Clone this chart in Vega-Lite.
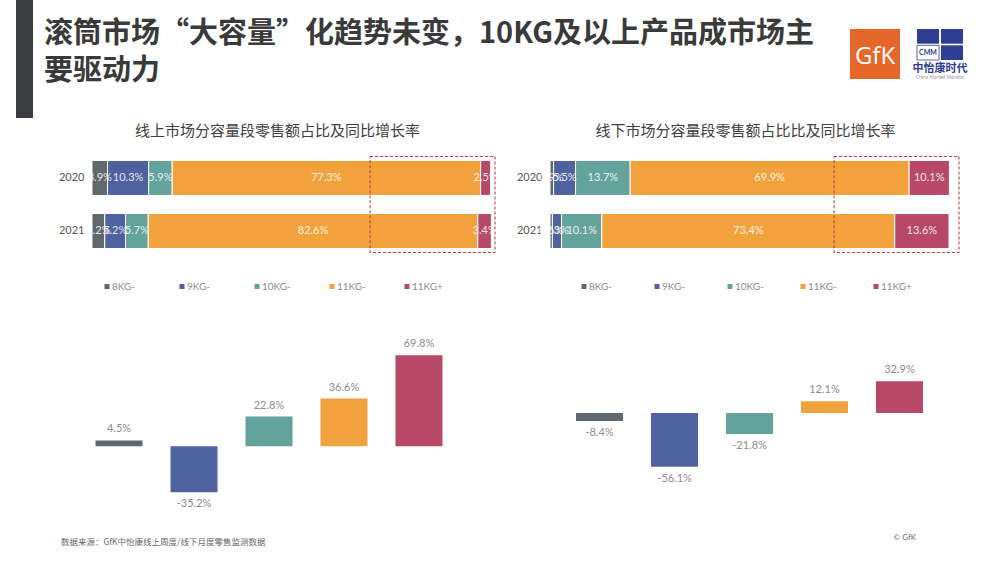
{
  "$schema": "https://vega.github.io/schema/vega-lite/v6.json",
  "background": "white",
  "padding": {"left": 16, "top": 0, "right": 5, "bottom": 5},
  "config": {
    "view": {"stroke": null},
    "font": "Lato",
    "locale": {"number": {"decimal": ".", "thousands": ",", "grouping": [3], "currency": ["$", ""], "minus": "-"}}
  },
  "bounds": "flush",
  "spacing": 156.5,
  "resolve": {"scale": {"color": "independent"}, "legend": {"color": "independent"}},
  "vconcat": [
    {
      "bounds": "flush",
      "spacing": 11,
      "hconcat": [
        {"width": 17, "height": 118, "view": {"fill": "#3a3c3f", "stroke": null}, "data": {"values": []}, "mark": "point"},
        {
          "width": 795, "height": 118, "data": {"values": []}, "mark": "point",
          "title": {
            "text": ["滚筒市场“大容量”化趋势未变，10KG及以上产品成市场主", "要驱动力"],
            "orient": "bottom", "anchor": "start", "frame": "group", "baseline": "top", "offset": -98,
            "font": "Noto Sans CJK SC", "fontSize": 29, "fontWeight": "bold", "color": "#3a3a3a", "lineHeight": 37
          }
        },
        {
          "bounds": "flush",
          "spacing": 28,
          "vconcat": [
            {"width": 1, "height": 1, "data": {"values": []}, "mark": "point"},
            {
              "bounds": "flush",
              "spacing": 17,
              "hconcat": [
                {
                  "width": 50, "height": 50,
                  "view": {"fill": "#e5672a", "stroke": null},
                  "data": {"values": [{}]},
                  "mark": {"type": "text", "text": "GfK", "color": "white", "fontSize": 24, "font": "Open Sans", "align": "center", "baseline": "middle", "dy": 3},
                  "encoding": {}
                },
                {
                  "width": 46, "height": 31,
                  "title": {
                    "text": "中怡康时代", "subtitle": "China Market Monitor",
                    "orient": "bottom", "anchor": "middle", "frame": "group", "baseline": "top", "offset": 3,
                    "font": "Noto Sans CJK SC", "fontSize": 11, "fontWeight": "bold", "color": "#2f3d92",
                    "subtitleFontSize": 5, "subtitleColor": "#999999", "subtitlePadding": 1, "subtitleFont": "Lato"
                  },
                  "layer": [
                    {
                      "data": {"values": [{"c": "L", "r": "T"}, {"c": "R", "r": "T"}, {"c": "R", "r": "B"}]},
                      "mark": {"type": "rect", "color": "#2f3d92"},
                      "encoding": {
                        "x": {"field": "c", "type": "nominal", "axis": null, "scale": {"domain": ["L", "R"], "paddingInner": 0.08, "paddingOuter": 0}},
                        "y": {"field": "r", "type": "nominal", "axis": null, "scale": {"domain": ["T", "B"], "paddingInner": 0.1, "paddingOuter": 0}}
                      }
                    },
                    {
                      "data": {"values": [{"c": "L", "r": "B"}]},
                      "mark": {"type": "rect", "fill": "white", "stroke": "#2f3d92", "strokeWidth": 0.8},
                      "encoding": {
                        "x": {"field": "c", "type": "nominal", "axis": null, "scale": {"domain": ["L", "R"], "paddingInner": 0.08, "paddingOuter": 0}},
                        "y": {"field": "r", "type": "nominal", "axis": null, "scale": {"domain": ["T", "B"], "paddingInner": 0.1, "paddingOuter": 0}}
                      }
                    },
                    {
                      "data": {"values": [{"c": "L", "r": "B", "t": "CMM"}]},
                      "mark": {"type": "text", "color": "#2f3d92", "fontSize": 7, "font": "Lato", "fontWeight": "bold"},
                      "encoding": {
                        "x": {"field": "c", "type": "nominal", "axis": null, "scale": {"domain": ["L", "R"], "paddingInner": 0.08, "paddingOuter": 0}},
                        "y": {"field": "r", "type": "nominal", "axis": null, "scale": {"domain": ["T", "B"], "paddingInner": 0.1, "paddingOuter": 0}},
                        "text": {"field": "t"}
                      }
                    }
                  ]
                }
              ]
            }
          ]
        }
      ]
    },
    {
      "bounds": "flush",
      "spacing": 0,
      "resolve": {"scale": {"color": "independent"}, "legend": {"color": "independent"}},
      "hconcat": [
        {"width": 76, "height": 1, "data": {"values": []}, "mark": "point"},
        {
          "bounds": "flush",
          "spacing": 96,
          "resolve": {"scale": {"color": "independent"}, "legend": {"color": "independent"}},
          "vconcat": [
            {
              "width": 399, "height": 96,
              "title": {
                "text": "线上市场分容量段零售额占比及同比增长率",
                "orient": "top", "anchor": "middle", "frame": "group", "baseline": "top", "offset": 17, "dx": -14,
                "font": "Noto Sans CJK SC", "fontSize": 15, "fontWeight": "normal", "color": "#404040"
              },
              "data": {"values": [
                {"year": "2020", "seg": "8KG-", "k": 1, "share": 0.039},
                {"year": "2020", "seg": "9KG-", "k": 2, "share": 0.103},
                {"year": "2020", "seg": "10KG-", "k": 3, "share": 0.059},
                {"year": "2020", "seg": "11KG-", "k": 4, "share": 0.773},
                {"year": "2020", "seg": "11KG+", "k": 5, "share": 0.025},
                {"year": "2021", "seg": "8KG-", "k": 1, "share": 0.032},
                {"year": "2021", "seg": "9KG-", "k": 2, "share": 0.052},
                {"year": "2021", "seg": "10KG-", "k": 3, "share": 0.057},
                {"year": "2021", "seg": "11KG-", "k": 4, "share": 0.826},
                {"year": "2021", "seg": "11KG+", "k": 5, "share": 0.034}
              ]},
              "layer": [
                {
                  "mark": {"type": "bar", "stroke": "white", "strokeWidth": 1},
                  "encoding": {
                    "y": {"field": "year", "type": "nominal", "sort": ["2020", "2021"], "scale": {"paddingInner": 0.34, "paddingOuter": 0.075},
                          "axis": {"title": null, "domain": false, "ticks": false, "labelPadding": 8, "labelFontSize": 11, "labelColor": "#555555", "labelFont": "Lato"}},
                    "x": {"field": "share", "type": "quantitative", "stack": "zero", "axis": null, "scale": {"domain": [0, 1], "nice": false}},
                    "color": {"field": "seg", "type": "nominal",
                              "scale": {"domain": ["8KG-", "9KG-", "10KG-", "11KG-", "11KG+"], "range": ["#60676d", "#4e62a0", "#64a39b", "#f2a23c", "#b84868"]},
                              "legend": {"title": null, "orient": "none", "legendX": 10, "legendY": 125, "direction": "horizontal", "columns": 5,
                                         "symbolType": "square", "symbolSize": 25, "symbolStrokeWidth": 0, "labelFontSize": 10, "labelColor": "#8c8c8c",
                                         "labelFont": "Lato", "labelOffset": 0, "gridAlign": "all", "columnPadding": 34}},
                    "order": {"field": "k", "type": "quantitative"}
                  }
                },
                {
                  "mark": {"type": "text", "color": "white", "opacity": 0.85, "fontSize": 11, "font": "Lato"},
                  "encoding": {
                    "y": {"field": "year", "type": "nominal", "sort": ["2020", "2021"]},
                    "x": {"field": "share", "type": "quantitative", "stack": "zero", "bandPosition": 0.5},
                    "detail": {"field": "seg"},
                    "order": {"field": "k", "type": "quantitative"},
                    "text": {"field": "share", "type": "quantitative", "format": ".1%"}
                  }
                },
                {
                  "data": {"values": [{}]},
                  "mark": {"type": "rect", "fill": null, "stroke": "#b8413f", "strokeDash": [3, 2], "strokeWidth": 1.1},
                  "encoding": {"x": {"datum": 0.697}, "x2": {"datum": 1.01}}
                }
              ]
            },
            {
              "width": 354, "height": 150,
              "title": {
                "text": "数据来源：GfK中怡康线上周度/线下月度零售监测数据",
                "orient": "bottom", "anchor": "start", "frame": "group", "baseline": "top", "offset": 29, "dx": -31,
                "font": "Noto Sans CJK SC", "fontSize": 8.5, "fontWeight": "normal", "color": "#666666"
              },
              "data": {"values": [
                {"seg": "8KG-", "yoy": 0.045},
                {"seg": "9KG-", "yoy": -0.352},
                {"seg": "10KG-", "yoy": 0.228},
                {"seg": "11KG-", "yoy": 0.366},
                {"seg": "11KG+", "yoy": 0.698}
              ]},
              "encoding": {
                "x": {"field": "seg", "type": "nominal", "sort": ["8KG-", "9KG-", "10KG-", "11KG-", "11KG+"], "axis": null, "scale": {"paddingInner": 0.373, "paddingOuter": 0.047}},
                "y": {"field": "yoy", "type": "quantitative", "axis": null, "scale": {"domain": [-0.40, 0.75], "nice": false}}
              },
              "layer": [
                {
                  "mark": {"type": "bar"},
                  "encoding": {
                    "color": {"field": "seg", "type": "nominal", "legend": null,
                              "scale": {"domain": ["8KG-", "9KG-", "10KG-", "11KG-", "11KG+"], "range": ["#60676d", "#4e62a0", "#64a39b", "#f2a23c", "#b84868"]}}
                  }
                },
                {
                  "mark": {"type": "text", "fontSize": 11, "color": "#8c8c8c", "font": "Lato",
                           "baseline": {"expr": "datum.yoy >= 0 ? 'bottom' : 'top'"}, "dy": {"expr": "datum.yoy >= 0 ? -6 : 6"}},
                  "encoding": {"text": {"field": "yoy", "type": "quantitative", "format": ".1%"}}
                }
              ]
            }
          ]
        },
        {"width": 458, "height": 1, "data": {"values": []}, "mark": "point"},
        {
          "bounds": "flush",
          "spacing": 96,
          "resolve": {"scale": {"color": "independent"}, "legend": {"color": "independent"}},
          "vconcat": [
            {
              "width": 399, "height": 96,
              "title": {
                "text": "线下市场分容量段零售额占比比及同比增长率",
                "orient": "top", "anchor": "middle", "frame": "group", "baseline": "top", "offset": 17, "dx": -4,
                "font": "Noto Sans CJK SC", "fontSize": 15, "fontWeight": "normal", "color": "#404040"
              },
              "data": {"values": [
                {"year": "2020", "seg": "8KG-", "k": 1, "share": 0.009},
                {"year": "2020", "seg": "9KG-", "k": 2, "share": 0.055},
                {"year": "2020", "seg": "10KG-", "k": 3, "share": 0.137},
                {"year": "2020", "seg": "11KG-", "k": 4, "share": 0.699},
                {"year": "2020", "seg": "11KG+", "k": 5, "share": 0.101},
                {"year": "2021", "seg": "8KG-", "k": 1, "share": 0.006},
                {"year": "2021", "seg": "9KG-", "k": 2, "share": 0.023},
                {"year": "2021", "seg": "10KG-", "k": 3, "share": 0.101},
                {"year": "2021", "seg": "11KG-", "k": 4, "share": 0.734},
                {"year": "2021", "seg": "11KG+", "k": 5, "share": 0.136}
              ]},
              "layer": [
                {
                  "mark": {"type": "bar", "stroke": "white", "strokeWidth": 1},
                  "encoding": {
                    "y": {"field": "year", "type": "nominal", "sort": ["2020", "2021"], "scale": {"paddingInner": 0.34, "paddingOuter": 0.075},
                          "axis": {"title": null, "domain": false, "ticks": false, "labelPadding": 8, "labelFontSize": 11, "labelColor": "#555555", "labelFont": "Lato"}},
                    "x": {"field": "share", "type": "quantitative", "stack": "zero", "axis": null, "scale": {"domain": [0, 1], "nice": false}},
                    "color": {"field": "seg", "type": "nominal",
                              "scale": {"domain": ["8KG-", "9KG-", "10KG-", "11KG-", "11KG+"], "range": ["#60676d", "#4e62a0", "#64a39b", "#f2a23c", "#b84868"]},
                              "legend": {"title": null, "orient": "none", "legendX": 29, "legendY": 125, "direction": "horizontal", "columns": 5,
                                         "symbolType": "square", "symbolSize": 25, "symbolStrokeWidth": 0, "labelFontSize": 10, "labelColor": "#8c8c8c",
                                         "labelFont": "Lato", "labelOffset": 0, "gridAlign": "all", "columnPadding": 32}},
                    "order": {"field": "k", "type": "quantitative"}
                  }
                },
                {
                  "mark": {"type": "text", "color": "white", "opacity": 0.85, "fontSize": 11, "font": "Lato"},
                  "encoding": {
                    "y": {"field": "year", "type": "nominal", "sort": ["2020", "2021"]},
                    "x": {"field": "share", "type": "quantitative", "stack": "zero", "bandPosition": 0.5},
                    "detail": {"field": "seg"},
                    "order": {"field": "k", "type": "quantitative"},
                    "text": {"field": "share", "type": "quantitative", "format": ".1%"}
                  }
                },
                {
                  "data": {"values": [{}]},
                  "mark": {"type": "rect", "fill": null, "stroke": "#b8413f", "strokeDash": [3, 2], "strokeWidth": 1.1},
                  "encoding": {"x": {"datum": 0.712}, "x2": {"datum": 1.025}}
                }
              ]
            },
            {
              "width": 399, "height": 150,
              "title": {
                "text": "© GfK",
                "orient": "bottom", "anchor": "end", "frame": "group", "baseline": "top", "offset": 35.5, "dx": -33,
                "font": "Lato", "fontSize": 8, "fontWeight": "normal", "color": "#666666"
              },
              "data": {"values": [
                {"seg": "8KG-", "yoy": -0.084},
                {"seg": "9KG-", "yoy": -0.561},
                {"seg": "10KG-", "yoy": -0.218},
                {"seg": "11KG-", "yoy": 0.121},
                {"seg": "11KG+", "yoy": 0.329}
              ]},
              "encoding": {
                "x": {"field": "seg", "type": "nominal", "sort": ["8KG-", "9KG-", "10KG-", "11KG-", "11KG+"], "axis": null, "scale": {"paddingInner": 0.373, "paddingOuter": 0.347}},
                "y": {"field": "yoy", "type": "quantitative", "axis": null, "scale": {"domain": [-0.89, 0.67], "nice": false}}
              },
              "layer": [
                {
                  "mark": {"type": "bar"},
                  "encoding": {
                    "color": {"field": "seg", "type": "nominal", "legend": null,
                              "scale": {"domain": ["8KG-", "9KG-", "10KG-", "11KG-", "11KG+"], "range": ["#60676d", "#4e62a0", "#64a39b", "#f2a23c", "#b84868"]}}
                  }
                },
                {
                  "mark": {"type": "text", "fontSize": 11, "color": "#8c8c8c", "font": "Lato",
                           "baseline": {"expr": "datum.yoy >= 0 ? 'bottom' : 'top'"}, "dy": {"expr": "datum.yoy >= 0 ? -6 : 6"}},
                  "encoding": {"text": {"field": "yoy", "type": "quantitative", "format": ".1%"}}
                }
              ]
            }
          ]
        }
      ]
    }
  ]
}
